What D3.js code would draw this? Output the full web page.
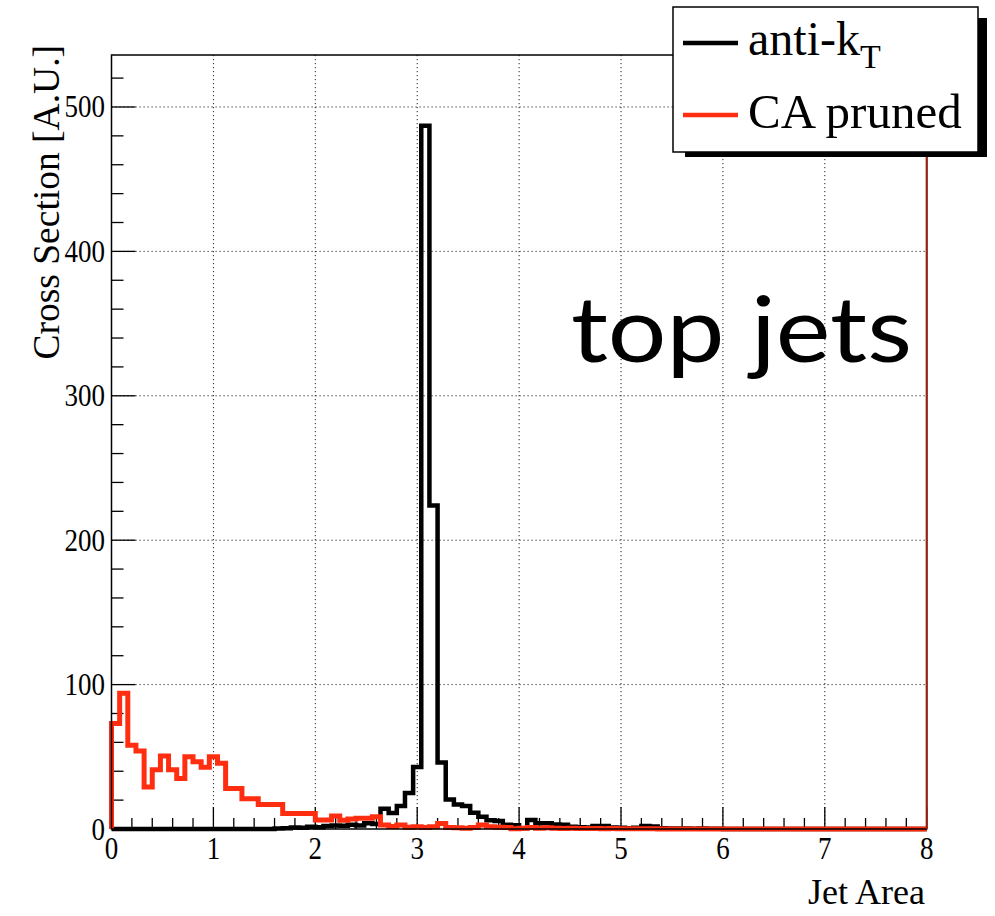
<!DOCTYPE html>
<html><head><meta charset="utf-8">
<script src="https://cdn.jsdelivr.net/npm/d3@7"></script>
<style>body{margin:0;background:#fff}</style>
</head><body>
<svg id="c" width="995" height="916"></svg>
<script>
// ---- data ----
const binWidth = 0.08;           // 100 bins over [0, 8]
const xTickLabels = [0,1,2,3,4,5,6,7,8];
const yTickLabels = [0,100,200,300,400,500];
const antiKt = [
  0,0,0,0,0,0,0,0,0,0, 0,0,0,0,0,0,0,0,0,0,
  0.3,0.5,1,0.8,1.5,1.2,2,2.5,2.2,3, 2.5,4,3.5,14,11,16,25,43,487,224,
  46,20.5,17,16,11.3,8.5,6,5.6,3,2.6, 0.5,6.2,4,4,3.2,3,1.5,1.2,1,2,
  2,1,0.8,0.5,0.8,2,1.8,0.5,0.4,0.3, 0.3,0.2,0.3,0.2,0.1,0,0,0,0,0,
  0,0,0,0,0,0,0,0,0,0, 0,0,0,0,0,0,0,0,0,0
];
const caPruned = [
  73,94,58,54,29,41,50.5,41,35,50, 46.6,42.7,50,45.5,28,28,21,21,17,17,
  17,10.8,10.8,10.8,10.8,6.2,6.2,9,6,7, 7.4,7.4,8.5,2.8,1.8,2.8,1.2,1.5,1,1.5,
  3.8,1,0.8,0.6,1,2.8,1.5,1.2,1,0.2, 0.5,1,0.5,0.8,0.6,0.4,0.5,0.3,0.4,0.3,
  0.2,0.3,0.2,0.2,0.1,0.2,0.1,0,0,0, 0,0,0,0,0,0,0,0,0,0,
  0,0,0,0,0,0,0,0,0,0, 0,0,0,0,0,0,0,0,0,0
];
const legendLabels = ["anti-k", "CA pruned"];
const legendSub = "T";
const xTitle = "Jet Area";
const yTitle = "Cross Section [A.U.]";
const annotation = "top jets";

// ---- layout ----
const svg = d3.select("#c");
const L = 111.5, R = 926.7, T = 55, B = 829;
const x = d3.scaleLinear().domain([0, 8]).range([L, R]);
const y = d3.scaleLinear().domain([0, 536]).range([B, T]);
const serif = "'Liberation Serif','Times New Roman',serif";
const RED = "#ff2e10";

// grid
const g = svg.append("g");
g.selectAll(".gx").data(xTickLabels.filter(d => d > 0 && d < 8)).enter().append("line")
  .attr("x1", d => x(d)).attr("x2", d => x(d)).attr("y1", T).attr("y2", B)
  .attr("stroke", "#222").attr("stroke-width", 1).attr("stroke-dasharray", "1.2,2.8");
g.selectAll(".gy").data(yTickLabels.filter(d => d > 0)).enter().append("line")
  .attr("x1", L).attr("x2", R).attr("y1", d => y(d)).attr("y2", d => y(d))
  .attr("stroke", "#222").attr("stroke-width", 1).attr("stroke-dasharray", "1.2,2.8");

// ticks (inside)
const xMinor = d3.range(0, 8.0001, 0.2);
svg.append("g").selectAll("line").data(xMinor).enter().append("line")
  .attr("x1", d => x(d)).attr("x2", d => x(d))
  .attr("y1", B).attr("y2", d => Math.abs(d - Math.round(d)) < 1e-6 ? B - 22 : B - 11)
  .attr("stroke", "#000").attr("stroke-width", 1.3);
const yMinor = d3.range(0, 536, 20);
svg.append("g").selectAll("line").data(yMinor).enter().append("line")
  .attr("y1", d => y(d)).attr("y2", d => y(d))
  .attr("x1", L).attr("x2", d => d % 100 === 0 ? L + 24 : L + 12)
  .attr("stroke", "#000").attr("stroke-width", 1.3);

// histograms
function stepPoints(vals) {
  const pts = [[0, 0]];
  vals.forEach((v, i) => { pts.push([i * binWidth, v]); pts.push([(i + 1) * binWidth, v]); });
  pts.push([vals.length * binWidth, 0]);
  return pts;
}
const line = d3.line().x(d => x(d[0])).y(d => y(d[1]));
svg.append("path").attr("d", line(stepPoints(antiKt)))
  .attr("fill", "none").attr("stroke", "#000").attr("stroke-width", 4.5).attr("stroke-linejoin", "miter");
svg.append("path").attr("d", line(stepPoints(caPruned)))
  .attr("fill", "none").attr("stroke", RED).attr("stroke-width", 5).attr("stroke-linejoin", "miter");

// frame
svg.append("rect").attr("x", L).attr("y", T).attr("width", R - L).attr("height", B - T)
  .attr("fill", "none").attr("stroke", "#000").attr("stroke-width", 1.5);
svg.append("line").attr("x1", R).attr("x2", R).attr("y1", T).attr("y2", B)
  .attr("stroke", "#a01e0c").attr("stroke-width", 2);

// tick labels (slightly tall glyphs as in the reference)
svg.append("g").selectAll("text").data(xTickLabels).enter().append("text")
  .attr("transform", d => `translate(${x(d)},859) scale(1,1.15)`).attr("text-anchor", "middle")
  .attr("font-family", serif).attr("font-size", 27).text(d => d);
svg.append("g").selectAll("text").data(yTickLabels).enter().append("text")
  .attr("transform", d => `translate(105,${y(d) + 10.5}) scale(1,1.15)`).attr("text-anchor", "end")
  .attr("font-family", serif).attr("font-size", 27).text(d => d);

// axis titles
svg.append("text").attr("x", 925).attr("y", 904).attr("text-anchor", "end")
  .attr("font-family", serif).attr("font-size", 36).text(xTitle);
svg.append("text").attr("transform", "translate(59,45) rotate(-90)").attr("text-anchor", "end")
  .attr("font-family", serif).attr("font-size", 37.5).text(yTitle);

// annotation
svg.append("text").attr("x", 571).attr("y", 362)
  .attr("font-family", "Lato, 'Open Sans', sans-serif").attr("font-size", 92)
  .attr("textLength", 341).attr("lengthAdjust", "spacingAndGlyphs").text(annotation);

// legend
const lg = svg.append("g");
lg.append("rect").attr("x", 685).attr("y", 18).attr("width", 302).attr("height", 139).attr("fill", "#000");
lg.append("rect").attr("x", 673).attr("y", 7).attr("width", 305).attr("height", 145)
  .attr("fill", "#fff").attr("stroke", "#000").attr("stroke-width", 1.5);
lg.append("line").attr("x1", 683).attr("x2", 738).attr("y1", 43).attr("y2", 43)
  .attr("stroke", "#000").attr("stroke-width", 4.5);
lg.append("line").attr("x1", 683).attr("x2", 738).attr("y1", 115).attr("y2", 115)
  .attr("stroke", RED).attr("stroke-width", 4.5);
const t1 = lg.append("text").attr("x", 748).attr("y", 55).attr("font-family", serif).attr("font-size", 48);
t1.append("tspan").text(legendLabels[0]);
t1.append("tspan").attr("font-size", 34).attr("dy", 13).text(legendSub);
lg.append("text").attr("x", 748).attr("y", 128).attr("font-family", serif).attr("font-size", 49).text(legendLabels[1]);
</script>
</body></html>
